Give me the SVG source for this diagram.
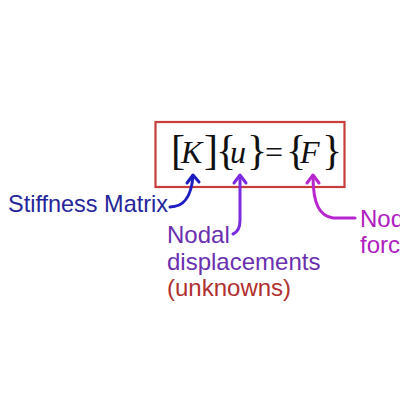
<svg xmlns="http://www.w3.org/2000/svg" width="400" height="400" viewBox="0 0 400 400">
<style>
.eq{font-family:"Liberation Serif","Times New Roman",serif;fill:#111}
.it{font-style:italic;font-size:32px}
.br{font-size:42px}
.lbl{font-family:"Liberation Sans",Arial,sans-serif;font-size:24px}
.conn{fill:none;stroke-width:3;stroke-linecap:round;stroke-linejoin:round}
</style>
<rect width="400" height="400" fill="#fff"/>
<g id="equation">
<rect x="155.5" y="122" width="189" height="65" fill="none" stroke="#c83c3c" stroke-width="2.2"/>
<text class="eq br" x="171" y="164">[</text>
<text class="eq it" x="181" y="163">K</text>
<text class="eq br" x="204" y="164">]</text>
<text class="eq br" x="216" y="164">{</text>
<text class="eq it" x="230" y="163">u</text>
<text class="eq br" x="247" y="164">}</text>
<text class="eq" x="265" y="163" font-size="32">=</text>
<text class="eq br" x="286" y="164">{</text>
<text class="eq it" x="300" y="163">F</text>
<text class="eq br" x="322" y="164">}</text>
</g>
<g id="stiffness">
<text class="lbl" x="8" y="212" fill="#25259a" font-size="23" textLength="160" lengthAdjust="spacingAndGlyphs">Stiffness Matrix</text>
</g>
<g id="displacements">
<text class="lbl" x="167" y="243" fill="#6a30b0">Nodal</text>
<text class="lbl" x="167" y="270" fill="#6a30b0">displacements</text>
<text class="lbl" x="167" y="296" fill="#b03030">(unknowns)</text>
</g>
<g id="forces">
<text class="lbl" x="360" y="227" fill="#b020c0">Nod</text>
<text class="lbl" x="360" y="253" fill="#b020c0">forc</text>
</g>
<g id="connectors">
<path class="conn" stroke="#1c1cc0" d="M170,207 C182,207 191,200 193,176"/>
<polyline class="conn" stroke="#1c1cc0" points="187,183 193,175 199,182"/>
<path class="conn" stroke="#7b2be0" d="M233,234 C238,232 240,228 240,220 L240,176"/>
<polyline class="conn" stroke="#7b2be0" points="234,183 240,175 246,183"/>
<path class="conn" stroke="#b826d0" d="M355,218 L333,218 C320,216 313,205 313,176"/>
<polyline class="conn" stroke="#b826d0" points="307,183 313,175 319,183"/>
</g>
</svg>
